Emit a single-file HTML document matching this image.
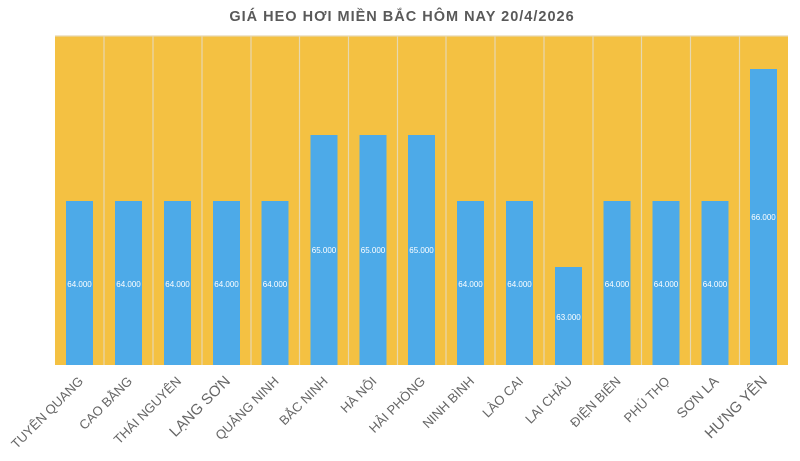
<!DOCTYPE html>
<html><head><meta charset="utf-8"><style>
html,body{margin:0;padding:0;background:#fff;}
svg{display:block;}
text{font-family:"Liberation Sans","DejaVu Sans",sans-serif;}
</style></head><body>
<svg width="800" height="461" viewBox="0 0 800 461" xmlns="http://www.w3.org/2000/svg">
<rect x="0" y="0" width="800" height="461" fill="#fff"/>
<text x="402" y="21" text-anchor="middle" font-size="14.5" font-weight="bold" fill="#595959" letter-spacing="1">GIÁ HEO HƠI MIỀN BẮC HÔM NAY 20/4/2026</text>
<rect x="55" y="36" width="733" height="329" fill="#F4C142"/>
<g stroke="#E6D8B0" stroke-width="1.2">
<line x1="104" y1="36" x2="104" y2="365"/><line x1="153" y1="36" x2="153" y2="365"/>
<line x1="202" y1="36" x2="202" y2="365"/><line x1="251" y1="36" x2="251" y2="365"/>
<line x1="299.5" y1="36" x2="299.5" y2="365"/><line x1="348.5" y1="36" x2="348.5" y2="365"/>
<line x1="397.5" y1="36" x2="397.5" y2="365"/><line x1="446" y1="36" x2="446" y2="365"/>
<line x1="495" y1="36" x2="495" y2="365"/><line x1="544" y1="36" x2="544" y2="365"/>
<line x1="593" y1="36" x2="593" y2="365"/><line x1="641.5" y1="36" x2="641.5" y2="365"/>
<line x1="690.5" y1="36" x2="690.5" y2="365"/><line x1="739.5" y1="36" x2="739.5" y2="365"/>
<line x1="55" y1="36" x2="788" y2="36"/>
</g>
<g fill="#4DAAE8">
<rect x="66" y="201" width="27" height="164"/>
<rect x="115" y="201" width="27" height="164"/>
<rect x="164" y="201" width="27" height="164"/>
<rect x="213" y="201" width="27" height="164"/>
<rect x="261.5" y="201" width="27" height="164"/>
<rect x="310.5" y="135" width="27" height="230"/>
<rect x="359.5" y="135" width="27" height="230"/>
<rect x="408" y="135" width="27" height="230"/>
<rect x="457" y="201" width="27" height="164"/>
<rect x="506" y="201" width="27" height="164"/>
<rect x="555" y="267" width="27" height="98"/>
<rect x="603.5" y="201" width="27" height="164"/>
<rect x="652.5" y="201" width="27" height="164"/>
<rect x="701.5" y="201" width="27" height="164"/>
<rect x="750" y="69" width="27" height="296"/>
</g>
<g fill="#fff" font-size="8" text-anchor="middle">
<text x="79.5" y="287">64.000</text><text x="128.5" y="287">64.000</text>
<text x="177.5" y="287">64.000</text><text x="226.5" y="287">64.000</text>
<text x="275" y="287">64.000</text><text x="324" y="253">65.000</text>
<text x="373" y="253">65.000</text><text x="421.5" y="253">65.000</text>
<text x="470.5" y="287">64.000</text><text x="519.5" y="287">64.000</text>
<text x="568.5" y="320">63.000</text><text x="617" y="287">64.000</text>
<text x="666" y="287">64.000</text><text x="715" y="287">64.000</text>
<text x="763.5" y="220">66.000</text>
</g>
<g fill="#666" font-size="13" text-anchor="end">
<text transform="translate(84,382) rotate(-45)">TUYÊN QUANG</text>
<text transform="translate(133,382) rotate(-45)">CAO BẰNG</text>
<text transform="translate(182,382) rotate(-45)">THÁI NGUYÊN</text>
<text transform="translate(231,382) rotate(-45)" font-size="15">LẠNG SƠN</text>
<text transform="translate(279.5,382) rotate(-45)">QUẢNG NINH</text>
<text transform="translate(328.5,382) rotate(-45)">BẮC NINH</text>
<text transform="translate(377.5,382) rotate(-45)">HÀ NỘI</text>
<text transform="translate(426,382) rotate(-45)">HẢI PHÒNG</text>
<text transform="translate(475,382) rotate(-45)">NINH BÌNH</text>
<text transform="translate(524,382) rotate(-45)">LÀO CAI</text>
<text transform="translate(573,382) rotate(-45)">LAI CHÂU</text>
<text transform="translate(621.5,382) rotate(-45)">ĐIỆN BIÊN</text>
<text transform="translate(670.5,382) rotate(-45)">PHÚ THỌ</text>
<text transform="translate(719.5,382) rotate(-45)" font-size="14">SƠN LA</text>
<text transform="translate(768,382) rotate(-45)" font-size="15">HƯNG YÊN</text>
</g>
</svg>
</body></html>
